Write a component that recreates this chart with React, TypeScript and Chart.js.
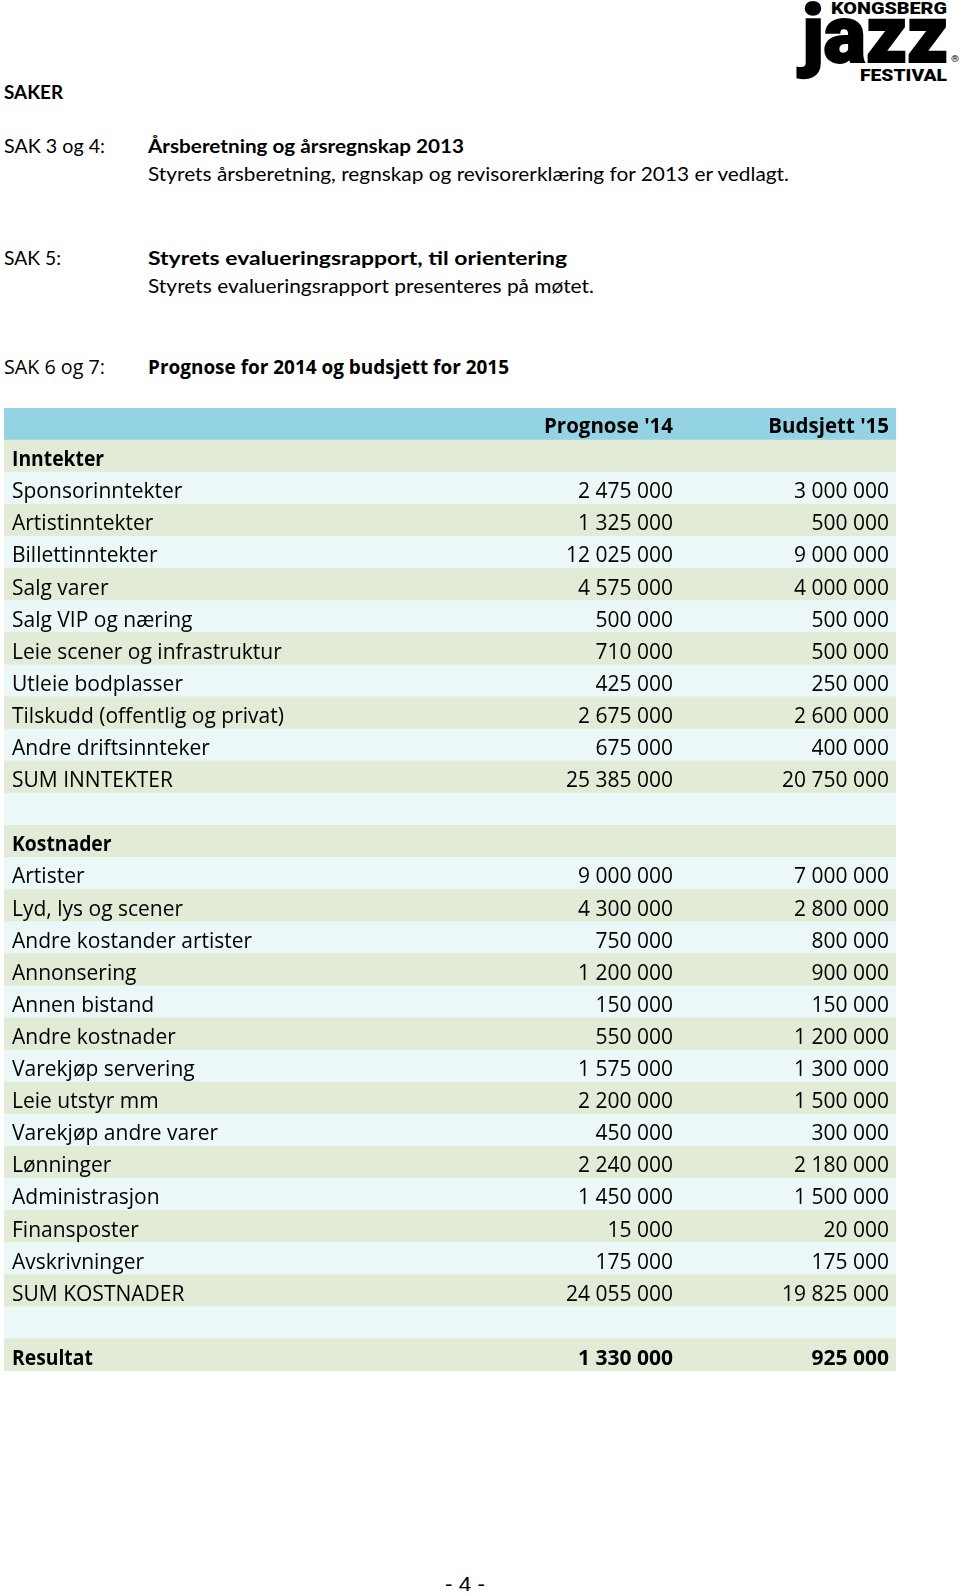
import React, { useEffect, useLayoutEffect, useRef } from "react";
import { Chart, registerables } from "chart.js";

Chart.register(...registerables);

// ---------- data ----------
const headerCols = ["Prognose '14", "Budsjett '15"];

const rowLabels = [
  "Inntekter",
  "Sponsorinntekter",
  "Artistinntekter",
  "Billettinntekter",
  "Salg varer",
  "Salg VIP og næring",
  "Leie scener og infrastruktur",
  "Utleie bodplasser",
  "Tilskudd (offentlig og privat)",
  "Andre driftsinnteker",
  "SUM INNTEKTER",
  "",
  "Kostnader",
  "Artister",
  "Lyd, lys og scener",
  "Andre kostander artister",
  "Annonsering",
  "Annen bistand",
  "Andre kostnader",
  "Varekjøp servering",
  "Leie utstyr mm",
  "Varekjøp andre varer",
  "Lønninger",
  "Administrasjon",
  "Finansposter",
  "Avskrivninger",
  "SUM KOSTNADER",
  "",
  "Resultat",
];

const prognose14: (number | null)[] = [
  null, 2475000, 1325000, 12025000, 4575000, 500000, 710000, 425000, 2675000, 675000, 25385000,
  null, null, 9000000, 4300000, 750000, 1200000, 150000, 550000, 1575000, 2200000, 450000,
  2240000, 1450000, 15000, 175000, 24055000, null, 1330000,
];

const budsjett15: (number | null)[] = [
  null, 3000000, 500000, 9000000, 4000000, 500000, 500000, 250000, 2600000, 400000, 20750000,
  null, null, 7000000, 2800000, 800000, 900000, 150000, 1200000, 1300000, 1500000, 300000,
  2180000, 1500000, 20000, 175000, 19825000, null, 925000,
];

const boldRows = ["Inntekter", "Kostnader", "Resultat"];

// ---------- styling ----------
const HEADER_BG = "#93D3E3";
const GREEN_BG = "#E2EBD5";
const CYAN_BG = "#EBF8F7";
const TABLE_FONT = "'Open Sans'";

const LABEL_X = 8 / 892;
const COL1_X = 669 / 892;
const COL2_X = 885 / 892;

function fmt(v: number | null): string {
  if (v === null) return "";
  return String(v).replace(/\B(?=(\d{3})+(?!\d))/g, " ");
}

const FONT_K: Record<string, number> = {
  "'Open Sans'": 0.888,
  Lato: 0.887,
  Roboto: 0.8415,
  "'Liberation Sans'": 0.8465,
};

function Fit(props: {
  x: number;
  base: number;
  w: number;
  size: number;
  font: string;
  weight?: number;
  stroke?: number;
  children: React.ReactNode;
}) {
  const ref = useRef<HTMLSpanElement>(null);
  useLayoutEffect(() => {
    const el = ref.current;
    if (!el) return;
    el.style.transform = "none";
    const nat = el.getBoundingClientRect().width;
    if (nat > 0) el.style.transform = `scaleX(${props.w / nat})`;
  });
  const k = FONT_K[props.font] ?? 0.88;
  const style: any = {
    position: "absolute",
    left: props.x,
    top: props.base - k * props.size,
    whiteSpace: "nowrap",
    transformOrigin: "0 0",
    fontFamily: props.font,
    fontSize: props.size,
    fontWeight: props.weight ?? 400,
    lineHeight: `${props.size}px`,
    color: "#000",
  };
  if (props.stroke) style.WebkitTextStroke = `${props.stroke}px #000`;
  return (
    <span ref={ref} style={style}>
      {props.children}
    </span>
  );
}

function TableChart() {
  const canvasRef = useRef<HTMLCanvasElement>(null);
  useEffect(() => {
    const canvas = canvasRef.current;
    if (!canvas) return;
    const labels = ["", ...rowLabels];
    const colors = labels.map((_, i) => (i === 0 ? HEADER_BG : (i - 1) % 2 === 0 ? GREEN_BG : CYAN_BG));

    const textPlugin = {
      id: "tableText",
      afterDatasetsDraw(chart: any) {
        const ctx = chart.ctx;
        const xs = chart.scales.x;
        const ys = chart.scales.y;
        ctx.save();
        ctx.fillStyle = "#000";
        ctx.textBaseline = "alphabetic";
        const lx = xs.getPixelForValue(LABEL_X);
        const c1 = xs.getPixelForValue(COL1_X);
        const c2 = xs.getPixelForValue(COL2_X);
        const squeeze = (t: string, x: number, y: number, f: number) => {
          const w = ctx.measureText(t).width;
          if (w > 0) ctx.fillText(t, x, y, w * f);
        };
        // header
        const hy = ys.getPixelForValue(0) + 9;
        ctx.font = `bold 21px ${TABLE_FONT}`;
        ctx.textAlign = "right";
        squeeze(headerCols[0], c1, hy, 0.975);
        squeeze(headerCols[1], c2, hy, 0.975);
        rowLabels.forEach((lab, i) => {
          const y = ys.getPixelForValue(i + 1) + 10;
          const bold = boldRows.includes(lab);
          ctx.font = `${bold ? "bold " : ""}21px ${TABLE_FONT}`;
          ctx.textAlign = "left";
          if (bold) squeeze(lab, lx, y, 0.92);
          else ctx.fillText(lab, lx, y);
          ctx.textAlign = "right";
          ctx.fillText(fmt(prognose14[i]), c1, y);
          ctx.fillText(fmt(budsjett15[i]), c2, y);
        });
        ctx.restore();
      },
    };

    const chart = new Chart(canvas, {
      type: "bar",
      data: {
        labels,
        datasets: [
          {
            data: labels.map(() => [0, 1]) as any,
            backgroundColor: colors,
            borderWidth: 0,
            barPercentage: 1,
            categoryPercentage: 1,
          },
        ],
      },
      options: {
        indexAxis: "y",
        animation: false,
        responsive: false,
        events: [],
        layout: { padding: 0 },
        plugins: { legend: { display: false }, tooltip: { enabled: false } },
        scales: {
          x: { type: "linear", min: 0, max: 1, display: false },
          y: { type: "category", display: false },
        },
      },
      plugins: [textPlugin],
    });
    return () => chart.destroy();
  }, []);
  return (
    <canvas
      ref={canvasRef}
      width={892}
      height={963}
      style={{ position: "absolute", left: 4, top: 408, width: 892, height: 963 }}
    />
  );
}

export default function App() {
  return (
    <div
      style={{
        position: "absolute",
        left: 0,
        top: 0,
        width: 960,
        height: 1596,
        overflow: "hidden",
        background: "#fff",
      }}
    >
      {/* logo */}
      <Fit x={831} base={14.5} w={116} size={17} font="Roboto" weight={900}>KONGSBERG</Fit>
      <Fit x={802} base={62} w={146} size={80} font="Roboto" weight={900} stroke={2}>jazz</Fit>
      <Fit x={860} base={81} w={87} size={17} font="Roboto" weight={900}>FESTIVAL</Fit>
      <Fit x={951} base={63} w={8} size={9} font="Roboto" weight={400}>®</Fit>

      <Fit x={4} base={99} w={59} size={19} font="Lato" weight={700}>SAKER</Fit>

      <Fit x={4} base={153} w={101} size={19} font="Lato">SAK 3 og 4:</Fit>
      <Fit x={148} base={153} w={316} size={19} font="Lato" weight={700}>Årsberetning og årsregnskap 2013</Fit>
      <Fit x={148} base={180.5} w={641} size={19} font="Lato">
        Styrets årsberetning, regnskap og revisorerklæring for 2013 er vedlagt.
      </Fit>

      <Fit x={4} base={265} w={57} size={19} font="Lato">SAK 5:</Fit>
      <Fit x={148} base={265} w={419} size={19} font="Lato" weight={700}>Styrets evalueringsrapport, til orientering</Fit>
      <Fit x={148} base={292.5} w={446} size={19} font="Lato">Styrets evalueringsrapport presenteres på møtet.</Fit>

      <Fit x={4} base={375} w={101} size={20} font="'Open Sans'">SAK 6 og 7:</Fit>
      <Fit x={148} base={375} w={361} size={20} font="'Open Sans'" weight={700}>Prognose for 2014 og budsjett for 2015</Fit>

      <TableChart />

      <Fit x={445} base={1591} w={40} size={20} font="'Liberation Sans'">- 4 -</Fit>
    </div>
  );
}
